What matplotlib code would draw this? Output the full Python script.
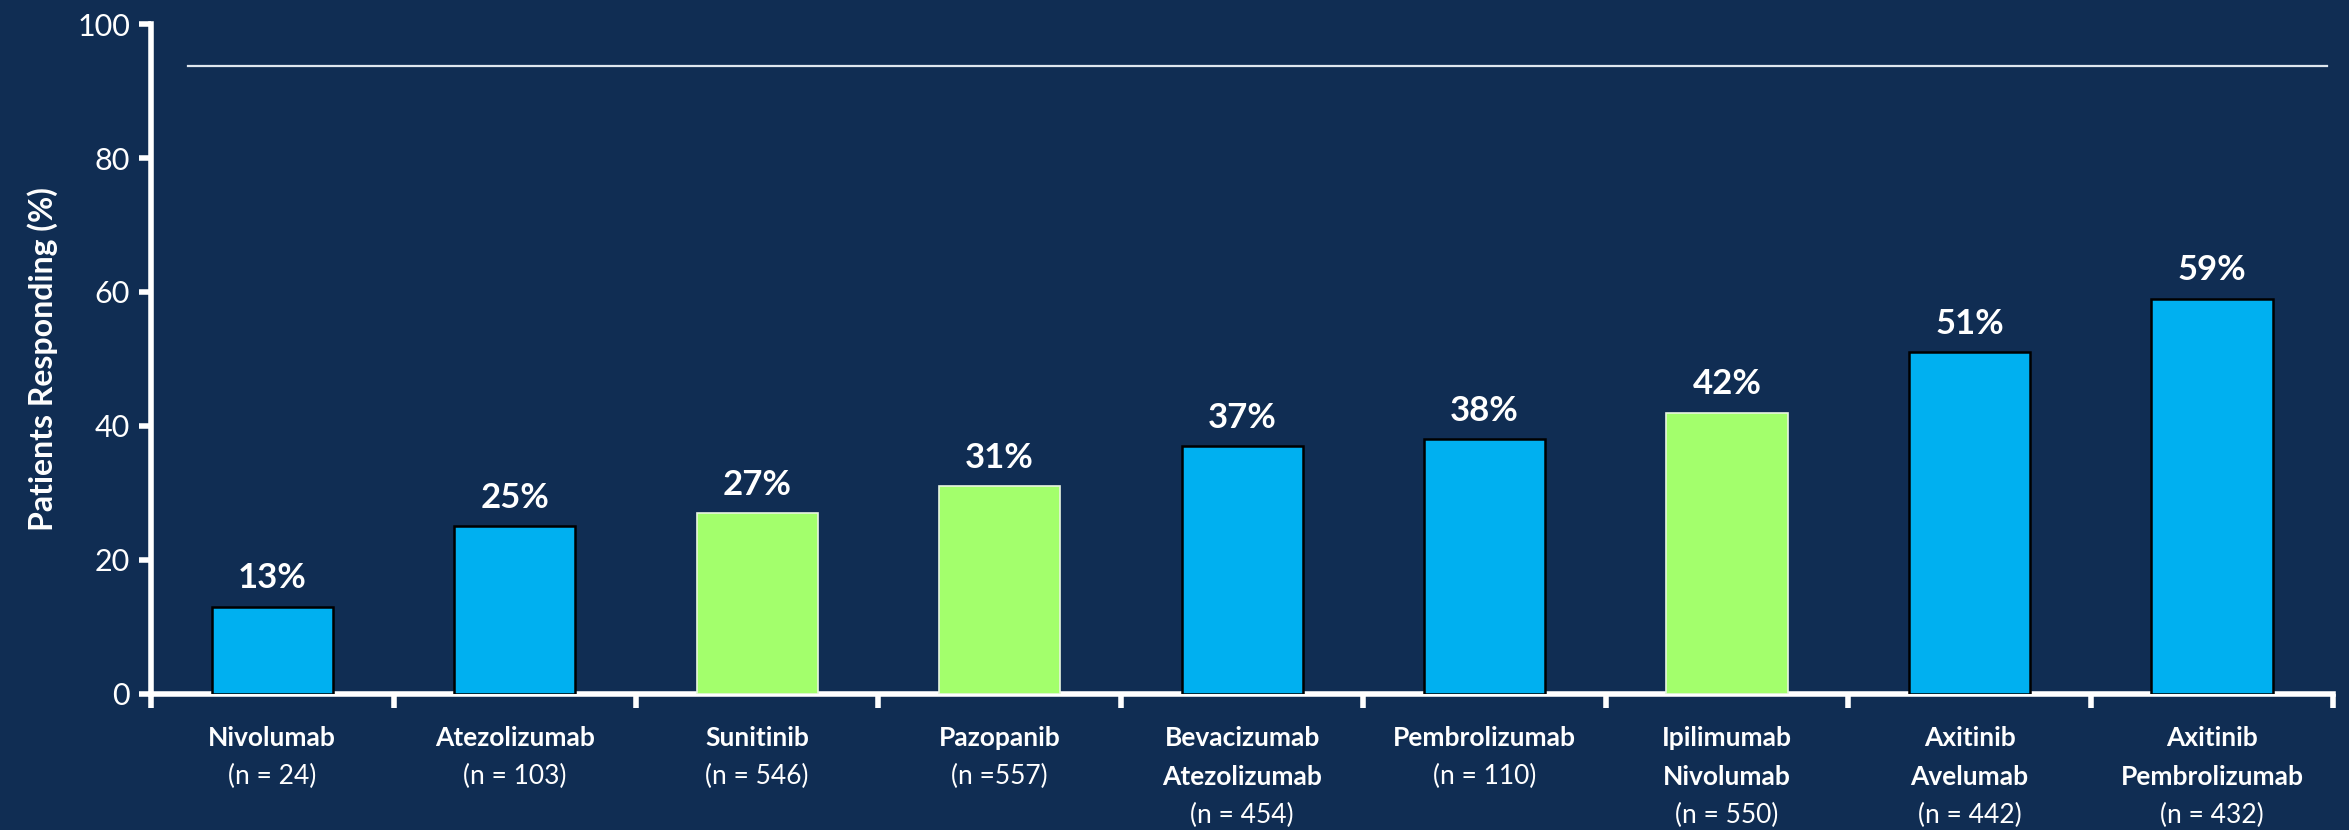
import matplotlib.pyplot as plt
import matplotlib.transforms as mtransforms

drugs = [["Nivolumab"], ["Atezolizumab"], ["Sunitinib"], ["Pazopanib"],
         ["Bevacizumab", "Atezolizumab"], ["Pembrolizumab"],
         ["Ipilimumab", "Nivolumab"], ["Axitinib", "Avelumab"],
         ["Axitinib", "Pembrolizumab"]]
n_labels = ["(n = 24)", "(n = 103)", "(n = 546)", "(n =557)", "(n = 454)",
            "(n = 110)", "(n = 550)", "(n = 442)", "(n = 432)"]
response = [13, 25, 27, 31, 37, 38, 42, 51, 59]
is_tki = [False, False, True, True, False, False, True, False, False]
ref_line = 93.7

bg = "#102d53"
blue = "#00b0f0"
green = "#a3ff6c"

plt.rcParams["font.family"] = ["Lato", "DejaVu Sans"]

fig = plt.figure(figsize=(23.49, 8.30), dpi=100, facecolor=bg)
ax = fig.add_axes([0.0643, 0.164, 0.929, 0.807])
ax.set_facecolor(bg)

x = list(range(len(response)))
for i, v in enumerate(response):
    if is_tki[i]:
        ax.bar(i, v, width=0.5, color=green, edgecolor="#e8f5e0", linewidth=1.2, zorder=3)
    else:
        ax.bar(i, v, width=0.5, color=blue, edgecolor="black", linewidth=1.8, zorder=3)
    ax.annotate(f"{v}%", (i, v), xytext=(0, 9), textcoords="offset points",
                ha="center", va="bottom", color="white", fontsize=25, fontweight="bold")

ax.axhline(ref_line, xmin=0.017, xmax=0.997, color="#dfe6ee", linewidth=1.6, zorder=2)

ax.set_xlim(-0.5, len(response) - 0.5)
ax.set_ylim(0, 100)
ax.set_yticks([0, 20, 40, 60, 80, 100])
ax.set_xticks([i - 0.5 for i in range(len(response) + 1)])
ax.set_xticklabels([])
ax.tick_params(axis="y", colors="white", labelsize=22, length=9, width=4, pad=6)
ax.tick_params(axis="x", colors="white", length=10, width=4)
for s in ["top", "right"]:
    ax.spines[s].set_visible(False)
for s in ["left", "bottom"]:
    ax.spines[s].set_color("white")
    ax.spines[s].set_linewidth(4)

ax.set_ylabel("Patients Responding (%)", color="white", fontsize=23,
              fontweight="bold", labelpad=14)

# category names (bold) with sample size underneath
trans = mtransforms.blended_transform_factory(ax.transData, ax.transAxes)
line_h = 39 / (0.807 * 830)
first = -44 / (0.807 * 830)
for i in x:
    y = first
    for name in drugs[i]:
        ax.text(i, y, name, transform=trans, ha="center", va="center",
                color="white", fontsize=19, fontweight="bold")
        y -= line_h
    ax.text(i, y, n_labels[i], transform=trans, ha="center", va="center",
            color="white", fontsize=19)

fig.savefig("out.png", dpi=100, facecolor=bg)
